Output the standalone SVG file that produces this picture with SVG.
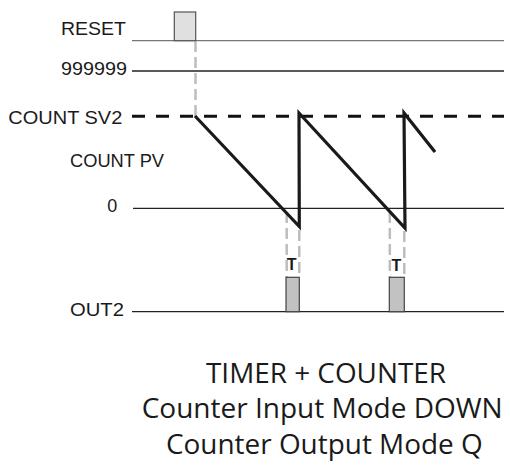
<svg xmlns="http://www.w3.org/2000/svg" width="510" height="466" viewBox="0 0 510 466">
<style>
.lbl{font-family:"Liberation Sans",Arial,sans-serif;font-size:17.5px;fill:#1a1a1a;text-anchor:start}
.ttl{font-family:"Open Sans","Noto Sans",sans-serif;font-size:27px;fill:#1a1a1a}
.t{font-family:"Liberation Sans",Arial,sans-serif;font-size:16px;font-weight:bold;fill:#1a1a1a;text-anchor:middle}
.axis{stroke:#222;stroke-width:1.3;fill:none}
.guide{stroke:#bdbdbd;stroke-width:2.5;stroke-dasharray:11 5;fill:none}
.pulse{fill:#c2c2c2;stroke:#444;stroke-width:1.2}
</style>
<rect width="510" height="466" fill="#fff"/>
<g id="labels">
<text class="lbl" x="61" y="34.7" textLength="65" lengthAdjust="spacingAndGlyphs">RESET</text>
<text class="lbl" x="61" y="75" textLength="66" lengthAdjust="spacingAndGlyphs">999999</text>
<text class="lbl" x="8.3" y="124" textLength="114" lengthAdjust="spacingAndGlyphs">COUNT SV2</text>
<text class="lbl" x="70" y="167.3" textLength="94" lengthAdjust="spacingAndGlyphs">COUNT PV</text>
<text class="lbl" x="107.3" y="211.7" textLength="10" lengthAdjust="spacingAndGlyphs">0</text>
<text class="lbl" x="70" y="316" textLength="54" lengthAdjust="spacingAndGlyphs">OUT2</text>
</g>
<g id="connectors">
<line x1="132" y1="40.7" x2="504" y2="40.7" stroke="#777" stroke-width="1.3"/>
<line class="axis" x1="132" y1="71" x2="504" y2="71"/>
<line x1="132" y1="116.3" x2="504" y2="116.3" stroke="#111" stroke-width="3" stroke-dasharray="13 11"/>
<line class="axis" x1="133" y1="208.3" x2="504" y2="208.3"/>
<line class="axis" x1="132" y1="311.7" x2="504" y2="311.7"/>
<line class="guide" x1="195.5" y1="41" x2="195.5" y2="116"/>
<line class="guide" x1="286.7" y1="212" x2="286.7" y2="277"/>
<line class="guide" x1="299.3" y1="230" x2="299.3" y2="277"/>
<line class="guide" x1="389.8" y1="212" x2="389.8" y2="277"/>
<line class="guide" x1="404.3" y1="231" x2="404.3" y2="277"/>
<polyline points="195,116 299.3,226.5 299,113 405,228 404,113 435,152" fill="none" stroke="#1a1a1a" stroke-width="3.2" stroke-linejoin="miter" stroke-miterlimit="10"/>
</g>
<g id="reset-pulse">
<rect x="174.3" y="12" width="21.4" height="28.7" fill="#e0e0e0" stroke="#555" stroke-width="1.2"/>
</g>
<g id="out-pulse-1">
<rect class="pulse" x="286" y="277.3" width="13.3" height="34.4"/>
<text class="t" x="291.7" y="270">T</text>
</g>
<g id="out-pulse-2">
<rect class="pulse" x="389.3" y="277.3" width="15" height="34.4"/>
<text class="t" x="396.3" y="270.7">T</text>
</g>
<g id="title">
<text class="ttl" x="206" y="382.7" textLength="240" lengthAdjust="spacingAndGlyphs">TIMER + COUNTER</text>
<text class="ttl" x="141.7" y="418.3" textLength="361" lengthAdjust="spacingAndGlyphs">Counter Input Mode DOWN</text>
<text class="ttl" x="166" y="454" textLength="316.7" lengthAdjust="spacingAndGlyphs">Counter Output Mode Q</text>
</g>
</svg>
